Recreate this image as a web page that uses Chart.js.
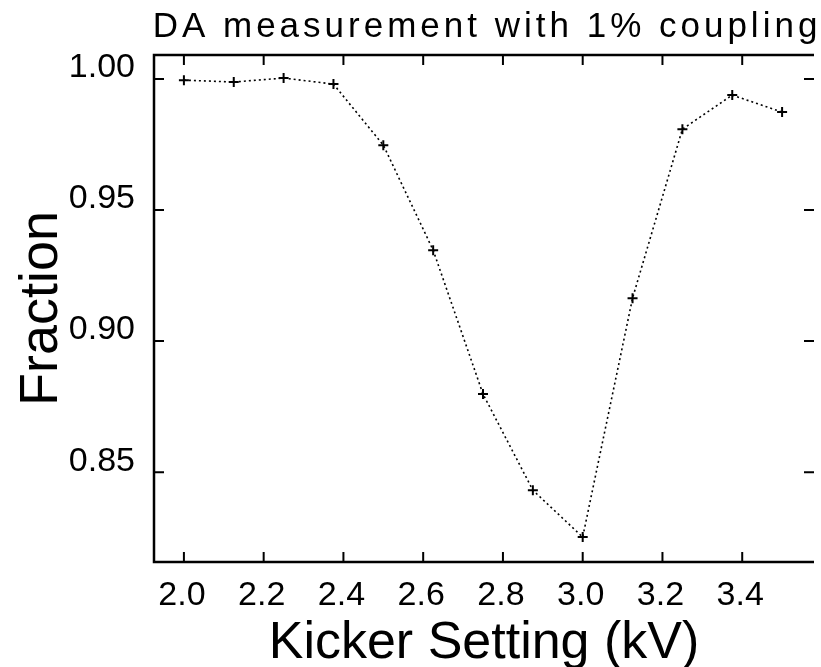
<!DOCTYPE html>
<html>
<head>
<meta charset="utf-8">
<title>DA measurement</title>
<script src="https://cdn.jsdelivr.net/npm/chart.js@4.4.1/dist/chart.umd.min.js"></script>
<style>
  html, body { margin: 0; padding: 0; background: #fff; }
  canvas { display: block; }
</style>
</head>
<body>
<canvas id="mycanvas" width="821" height="667"></canvas>
<script>
// kicker voltage scan, fraction of surviving particles
var kicker   = [2.0, 2.125, 2.25, 2.375, 2.5, 2.625, 2.75, 2.875, 3.0, 3.125, 3.25, 3.375, 3.5];
var fraction = [0.9996, 0.9989, 1.0004, 0.9981, 0.9748, 0.9347, 0.8798, 0.8431, 0.8252, 0.9164, 0.9809, 0.9939, 0.9874];

var xTicks = [2.0, 2.2, 2.4, 2.6, 2.8, 3.0, 3.2, 3.4];
var yTicks = [0.85, 0.90, 0.95, 1.00];

var titleText = 'DA measurement with 1% coupling';

Chart.defaults.font.family = '"Liberation Sans", Arial, sans-serif';
Chart.defaults.color = '#000';

var points = [];
for (var i = 0; i < kicker.length; i++) {
  points.push({ x: kicker[i], y: fraction[i] });
}

// axis lines (left, top, bottom) with inward tick marks on all four sides, plus the title
var framePlugin = {
  id: 'frame',
  afterDatasetsDraw: function(chart) {
    var ctx = chart.ctx, a = chart.chartArea;
    var xs = chart.scales.x, ys = chart.scales.y;
    var len = 10;
    ctx.save();
    ctx.strokeStyle = '#000';
    ctx.lineWidth = 2;
    ctx.beginPath();
    xTicks.forEach(function(v) {
      var px = xs.getPixelForValue(v);
      ctx.moveTo(px, a.bottom); ctx.lineTo(px, a.bottom - len);
      ctx.moveTo(px, a.top);    ctx.lineTo(px, a.top + len);
    });
    yTicks.forEach(function(v) {
      var py = ys.getPixelForValue(v);
      ctx.moveTo(a.left, py);  ctx.lineTo(a.left + len, py);
      ctx.moveTo(a.right, py); ctx.lineTo(a.right - len, py);
    });
    ctx.stroke();
    ctx.lineWidth = 2.5;
    ctx.beginPath();
    ctx.moveTo(a.right, a.top);
    ctx.lineTo(a.left, a.top);
    ctx.lineTo(a.left, a.bottom);
    ctx.lineTo(a.right, a.bottom);
    ctx.stroke();
    ctx.restore();
  },
  afterDraw: function(chart) {
    var ctx = chart.ctx, a = chart.chartArea;
    ctx.save();
    ctx.font = '35px "Liberation Sans", Arial, sans-serif';
    ctx.letterSpacing = '4px';
    ctx.fillStyle = '#000';
    ctx.textAlign = 'center';
    ctx.textBaseline = 'alphabetic';
    ctx.fillText(titleText, (a.left + a.right) / 2 + 3, 37);
    ctx.restore();
  }
};

var ctx = document.getElementById('mycanvas');

var lineChart = new Chart(ctx, {
  type: 'line',
  data: {
    datasets: [
      {
        label: 'Fraction',
        data: points,
        borderColor: '#000',
        borderWidth: 1.6,
        borderDash: [2, 3],
        fill: false,
        tension: 0,
        pointStyle: 'cross',
        pointRadius: 5,
        pointBorderWidth: 2,
        pointBorderColor: '#000',
        pointBackgroundColor: '#000'
      }
    ]
  },
  options: {
    responsive: false,
    animation: false,
    layout: { padding: { top: 55, right: 5, bottom: 0, left: 0 } },
    plugins: {
      legend: { display: false },
      tooltip: { enabled: false },
      title: { display: false }
    },
    scales: {
      x: {
        type: 'linear',
        min: 1.925,
        max: 3.58,
        grid: { display: false },
        border: { display: false },
        afterBuildTicks: function(axis) {
          axis.ticks = xTicks.map(function(v) { return { value: v }; });
        },
        afterFit: function(axis) { axis.height = 105; },
        ticks: {
          font: { size: 34 },
          padding: 5,
          labelOffset: -2,
          maxRotation: 0,
          callback: function(v) { return v.toFixed(1); }
        },
        title: {
          display: true,
          text: 'Kicker Setting (kV)',
          font: { size: 52, lineHeight: 0.9 },
          padding: { top: 0, bottom: 0 }
        }
      },
      y: {
        type: 'linear',
        min: 0.8157,
        max: 1.0092,
        grid: { display: false },
        border: { display: false },
        afterBuildTicks: function(axis) {
          axis.ticks = yTicks.map(function(v) { return { value: v }; });
        },
        afterFit: function(axis) { axis.width = 154; },
        ticks: {
          font: { size: 34 },
          padding: 11,
          labelOffset: -11,
          callback: function(v) { return v.toFixed(2); }
        },
        title: {
          display: true,
          text: 'Fraction',
          font: { size: 54, lineHeight: 0.9 },
          padding: { top: 18, bottom: 0 }
        }
      }
    }
  },
  plugins: [framePlugin]
});
</script>
</body>
</html>
